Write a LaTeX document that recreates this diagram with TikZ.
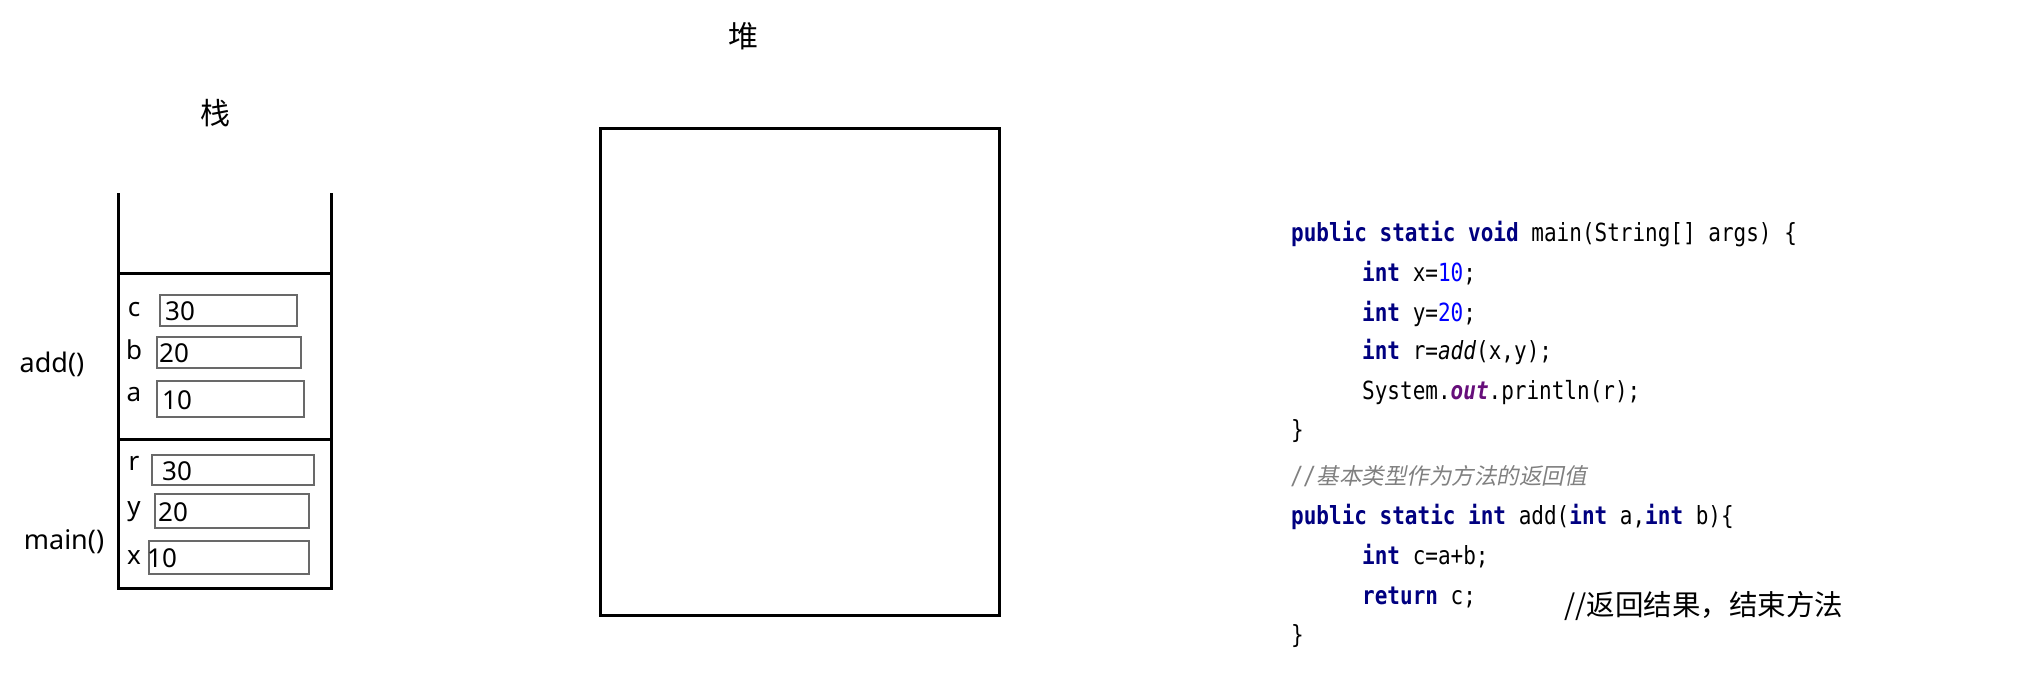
\documentclass[tikz,border=0pt]{standalone}
\usepackage{fontspec}
\setmainfont{Noto Sans}
\setmonofont[FakeStretch=0.84]{DejaVu Sans Mono}
\newfontfamily\cjk{Noto Sans CJK SC}
\newfontfamily\cjkit[FakeSlant=0.2]{Noto Sans CJK SC}
\usetikzlibrary{positioning}

\definecolor{kwblue}{RGB}{0,0,128}
\definecolor{numblue}{RGB}{0,0,255}
\definecolor{fieldpurple}{RGB}{102,14,122}
\definecolor{cmtgray}{RGB}{128,128,128}
\definecolor{boxgray}{RGB}{105,105,105}

\newcommand{\kw}[1]{\textcolor{kwblue}{\bfseries #1}}
\newcommand{\numlit}[1]{\textcolor{numblue}{#1}}

\tikzset{
  wall/.style={line width=3pt},
  cell/.style={draw=boxgray, line width=1.5pt},
  varname/.style={font=\fontsize{26}{26}\selectfont, inner sep=0},
  cellval/.style={font=\fontsize{26}{26}\selectfont, anchor=west, inner sep=0},
  frame/.style={font=\fontsize{27}{27}\selectfont, inner sep=0},
  title/.style={font=\cjk\fontsize{30}{30}\selectfont, inner sep=0},
  codeline/.style={font=\fontsize{25}{25}\ttfamily\selectfont, anchor=base west, inner sep=0},
}

\begin{document}
\begin{tikzpicture}[x=1pt,y=-1pt]
\useasboundingbox (0,0) rectangle (2019,674);

% stack
\node[title] (stacktitle) at (215,113) {栈};
\draw[wall] (118,193) -- (118,588) -- (331,588) -- (331,193);
\draw[wall] (118,273) -- (331,273);
\draw[wall] (118,439) -- (331,439);
\node[frame] (addframe) at (52,364) {add()};
\node[frame] (mainframe) at (64,542) {main()};
\foreach \v/\val/\xa/\ya/\xb/\yb/\dx/\ly in {c/30/160/295/297/326/5/310,
    b/20/157/337/301/368/2/350, a/10/157/381/304/417/5/395,
    r/30/152/455/314/485/10/463, y/20/155/494/309/528/3/512,
    x/10/149/541/309/574/-2/558}{
  \draw[cell] (\xa,\ya) rectangle (\xb,\yb);
  \node[varname] (name\v) at (134,\ly) {\v};
  \node[cellval] (val\v) at (\xa+\dx,{(\ya+\yb)/2+1}) {\val};
}

% heap
\node[title] (heaptitle) at (743,36) {堆};
\draw[wall] (600,129) rectangle (999,615);

% code
\node[codeline] (l1) at (1291,241) {\kw{public static void} main(String[] args) \{};
\node[codeline] (l2) at (1362,281) {\kw{int} x=\numlit{10};};
\node[codeline] (l3) at (1362,321) {\kw{int} y=\numlit{20};};
\node[codeline] (l4) at (1362,359) {\kw{int} r=\textit{add}(x,y);};
\node[codeline] (l5) at (1362,399) {System.\textcolor{fieldpurple}{\bfseries\itshape out}.println(r);};
\node[codeline] (l6) at (1291,438) {\}};
\node[codeline] (l7) at (1291,484) {\textcolor{cmtgray}{\itshape //\cjkit\fontsize{22.5}{22.5}\selectfont 基本类型作为方法的返回值}};
\node[codeline] (l8) at (1291,524) {\kw{public static int} add(\kw{int} a,\kw{int} b)\{};
\node[codeline] (l9) at (1362,564) {\kw{int} c=a+b;};
\node[codeline] (l10) at (1362,604) {\kw{return} c;};
\node[codeline] (l11) at (1291,643) {\}};
\node[anchor=base west, inner sep=0, font=\cjk\fontsize{28.5}{28.5}\selectfont] (retnote) at (1564,615) {//返回结果，结束方法};
\end{tikzpicture}
\end{document}
